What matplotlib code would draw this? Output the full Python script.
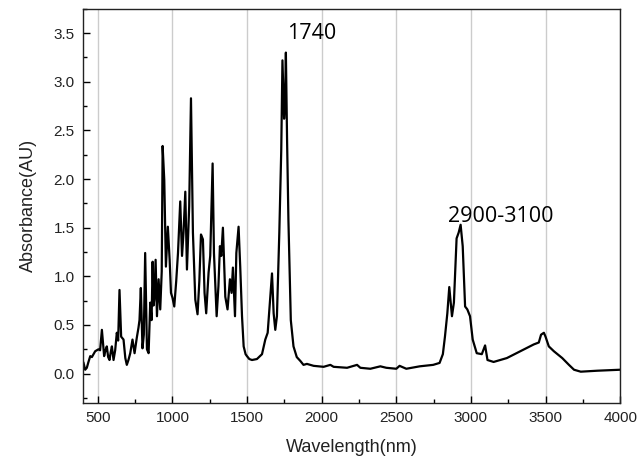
import matplotlib
matplotlib.use("Agg")
import matplotlib.pyplot as plt
from matplotlib.ticker import MultipleLocator

wavelength = [404, 415, 426, 437, 449, 460, 482, 504, 515, 527, 542, 551, 560, 569, 578, 586, 594,
              605, 616, 627, 636, 645, 656, 672, 684, 694, 705, 717, 732, 746, 761, 772, 779, 788,
              799, 808, 817, 829, 840, 851, 860, 867, 873, 878, 887, 896, 907,
              918, 928, 934, 945, 956, 969, 981, 990, 1000, 1012, 1025, 1037, 1052, 1064, 1074,
              1086, 1097, 1112, 1124, 1137, 1153, 1168, 1180, 1191, 1204, 1215, 1226, 1242, 1253,
              1269, 1278, 1296, 1308, 1318, 1327, 1338, 1354, 1369, 1385, 1396, 1405, 1419, 1428,
              1443, 1454, 1466, 1477, 1490, 1499, 1515, 1533, 1566, 1600, 1622, 1638, 1651, 1667,
              1678, 1689, 1700, 1716, 1729, 1737, 1748, 1754, 1760, 1768, 1777, 1793, 1811, 1833,
              1857, 1878, 1901, 1946,
              2013, 2058, 2080, 2170, 2237, 2259, 2326, 2393, 2433, 2500, 2522, 2567, 2657,
              2747, 2790, 2812, 2826, 2842, 2855, 2873, 2886, 2904, 2918, 2931, 2945, 2961, 2976,
              2994, 3012, 3039, 3073, 3095, 3111, 3152, 3241, 3331, 3421, 3455, 3470, 3489,
              3500, 3522, 3556, 3612, 3657, 3691, 3736, 3848, 4000]
absorbance = [0.11, 0.04, 0.06, 0.12, 0.18, 0.17, 0.23, 0.25, 0.24, 0.45, 0.18, 0.24, 0.28, 0.17,
              0.14, 0.22, 0.28, 0.14, 0.24, 0.42, 0.34, 0.86, 0.38, 0.35, 0.16, 0.09, 0.14, 0.21,
              0.35, 0.21, 0.37, 0.47, 0.55, 0.88, 0.26, 0.40, 1.24, 0.25, 0.21, 0.73, 0.55, 1.15,
              0.70, 0.76, 1.17, 0.59, 0.97, 0.66, 1.05, 2.34, 1.99, 1.10, 1.51, 1.17, 0.83, 0.78,
              0.69, 0.95, 1.24, 1.77, 1.21, 1.45, 1.87, 1.07, 1.72, 2.83, 1.45, 0.76, 0.61, 0.95,
              1.43, 1.38, 0.83, 0.62, 1.04, 1.21, 2.16, 1.24, 0.59, 0.90, 1.31, 1.21, 1.50, 0.79,
              0.66, 0.97, 0.83, 1.09, 0.59, 1.24, 1.51, 1.10, 0.59, 0.28, 0.20, 0.18, 0.15, 0.14,
              0.15, 0.20, 0.35, 0.42, 0.69, 1.03, 0.62, 0.45, 0.59, 1.45, 2.30, 3.22, 2.62, 2.75,
              3.30, 2.40, 1.58, 0.55, 0.28, 0.17, 0.13, 0.09, 0.10, 0.08,
              0.07, 0.09, 0.07, 0.06, 0.09, 0.06, 0.05, 0.075, 0.06, 0.05, 0.08, 0.05, 0.075,
              0.09, 0.11, 0.20, 0.38, 0.62, 0.89, 0.59, 0.73, 1.39, 1.45, 1.53, 1.31, 0.69, 0.66,
              0.59, 0.35, 0.21, 0.20, 0.29, 0.14, 0.12, 0.16, 0.23, 0.30, 0.32, 0.40, 0.42, 0.38,
              0.28, 0.23, 0.16, 0.09, 0.04, 0.02, 0.03, 0.04]

x_ticks = [500, 1000, 1500, 2000, 2500, 3000, 3500, 4000]
y_ticks = [0.0, 0.5, 1.0, 1.5, 2.0, 2.5, 3.0, 3.5]
annotations = [("1740", 1768, 3.50), ("2900-3100", 2847, 1.62)]

plt.rcParams['font.family'] = ['Liberation Sans', 'DejaVu Sans']

fig = plt.figure(figsize=(6.38, 4.63), dpi=100)
ax = fig.add_axes([0.130, 0.130, 0.842, 0.851])

for xt in x_ticks:
    ax.axvline(xt, color='#cccccc', lw=1.0, zorder=0)

ax.plot(wavelength, absorbance, color='black', lw=1.6, zorder=2)

ax.set_xlim(400, 4000)
ax.set_ylim(-0.3, 3.75)
ax.set_xticks(x_ticks)
ax.set_xticklabels([str(v) for v in x_ticks])
ax.set_yticks(y_ticks)
ax.set_yticklabels([f"{v:.1f}" for v in y_ticks])
ax.xaxis.set_minor_locator(MultipleLocator(250))
ax.yaxis.set_minor_locator(MultipleLocator(0.25))
ax.tick_params(which='major', direction='in', length=5, width=1, labelsize=11, colors='black', labelcolor='#222222', pad=6)
ax.tick_params(which='minor', direction='in', length=3, width=1, colors='black')
for s in ax.spines.values():
    s.set_linewidth(1.0)
    s.set_color('#222222')

ax.set_xlabel("Wavelength(nm)", fontsize=13, color='#222222', labelpad=10)
ax.set_ylabel("Absorbance(AU)", fontsize=13, color='#222222', labelpad=12)

for txt, xx, yy in annotations:
    ax.text(xx, yy, txt, fontsize=15.5, family=['Open Sans', 'DejaVu Sans'], ha='left', va='center', color='black')

fig.savefig("out.png", dpi=100)
